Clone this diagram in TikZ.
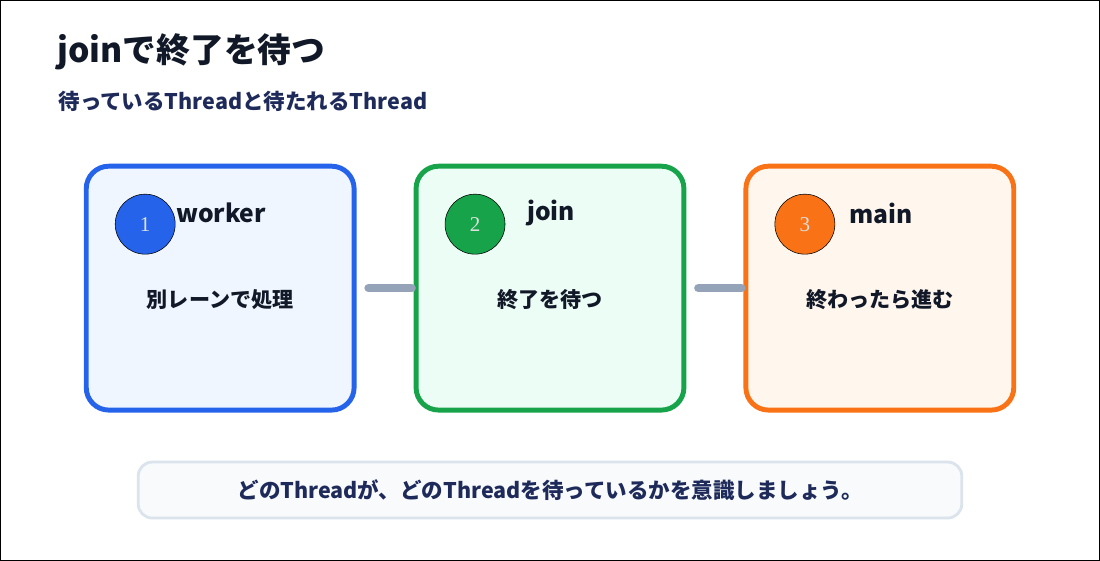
\documentclass[tikz,border=0pt]{standalone}
\usepackage{fontspec}
\setmainfont{Noto Sans CJK JP}
\newfontfamily\numfont{Liberation Serif}
\usetikzlibrary{positioning}
\definecolor{inkdark}{HTML}{111827}
\definecolor{navy}{HTML}{1E2A5A}
\definecolor{blueedge}{HTML}{2563EB}
\definecolor{bluefill}{HTML}{EFF6FF}
\definecolor{greenedge}{HTML}{16A34A}
\definecolor{greenfill}{HTML}{ECFDF5}
\definecolor{orangeedge}{HTML}{F97316}
\definecolor{orangefill}{HTML}{FFF7ED}
\definecolor{linkgray}{HTML}{94A3B8}
\definecolor{notefill}{HTML}{F8FAFC}
\definecolor{noteedge}{HTML}{DBE3EC}
\tikzset{
  stage/.style={draw, line width=3.5pt, rounded corners=16pt, minimum width=268\px, minimum height=244\px},
  badge/.style={circle, draw=black, thin, minimum size=60\px, inner sep=0pt, font=\numfont\fontsize{15}{15}\selectfont, text=white!75!gray},
  stagetitle/.style={font=\fontsize{17.5}{17.5}\selectfont\bfseries, text=inkdark},
  stagebody/.style={font=\fontsize{15}{15}\selectfont\bfseries, text=inkdark},
  link/.style={draw=linkgray, line width=6pt, line cap=round}
}
\newdimen\px \px=0.025cm
\begin{document}
\begin{tikzpicture}[x=0.025cm, y=-0.025cm]
  \draw[black, thin, fill=white] (0,0) rectangle (1100,560);

  % heading
  \node[anchor=west, font=\fontsize{24}{24}\selectfont\bfseries, text=inkdark, inner sep=0pt] (title) at (57,52) {joinで終了を待つ};
  \node[anchor=west, font=\fontsize{15.3}{15.3}\selectfont\bfseries, text=navy, inner sep=0pt] (subtitle) at (58,101) {待っているThreadと待たれるThread};

  % the three stages
  \foreach \x/\name/\col/\num/\head/\body in {220/worker/blue/1/worker/別レーンで処理, 550/join/green/2/join/終了を待つ, 880/main/orange/3/main/終わったら進む} {
    \node[stage, draw=\col edge, fill=\col fill] (\name) at (\x,288) {};
    \node[badge, fill=\col edge] (\name-num) at (\x-75,224) {\num};
    \node[stagetitle] (\name-head) at (\x+1,213) {\head};
    \node[stagebody] (\name-body) at (\x,299) {\body};
  }

  % connections
  \draw[link, shorten <=12\px, shorten >=2\px] (worker.east) -- (join.west);
  \draw[link, shorten <=12\px, shorten >=2\px] (join.east) -- (main.west);

  % note
  \node[draw=noteedge, line width=2pt, fill=notefill, rounded corners=10pt, minimum width=824\px, minimum height=56\px, font=\fontsize{15.3}{15.3}\selectfont\bfseries, text=navy] (note) at (550,490) {どのThreadが、どのThreadを待っているかを意識しましょう。};
\end{tikzpicture}
\end{document}
